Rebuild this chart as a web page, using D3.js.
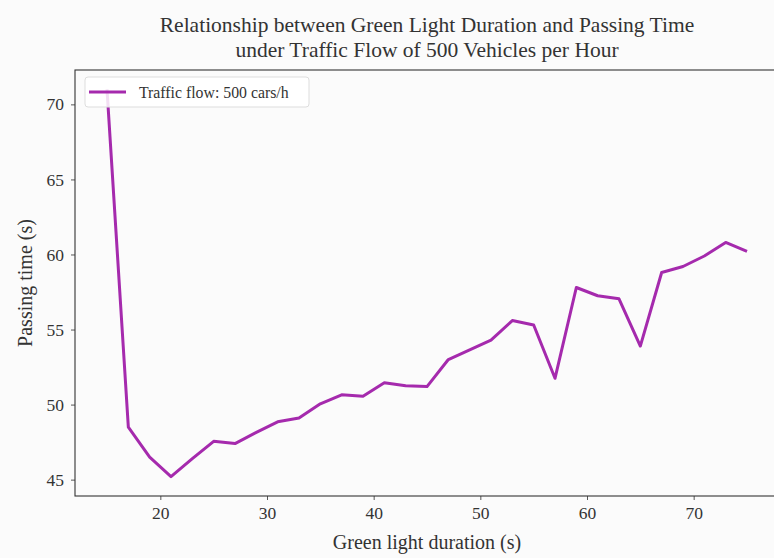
<!DOCTYPE html>
<html>
<head>
<meta charset="utf-8">
<script src="https://cdn.jsdelivr.net/npm/d3@7"></script>
<style>
  html, body { margin: 0; padding: 0; background: #fbfbfb; }
  #chart { width: 774px; height: 558px; overflow: hidden; }
  text { font-family: "Liberation Serif", "DejaVu Serif", serif; }
</style>
</head>
<body>
<div id="chart"></div>
<script>
// green light duration (s)
const durations = [15, 17, 19, 21, 23, 25, 27, 29, 31, 33, 35, 37, 39, 41, 43, 45,
  47, 49, 51, 53, 55, 57, 59, 61, 63, 65, 67, 69, 71, 73, 75];
// passing time (s), traffic flow 500 cars/h
const passingTimes = [71.0, 48.5, 46.5, 45.2, 46.4, 47.55, 47.4, 48.15, 48.85, 49.1, 50.05,
  50.65, 50.55, 51.45, 51.25, 51.2, 53.0, 53.65, 54.3, 55.6, 55.3, 51.75, 57.8,
  57.25, 57.05, 53.9, 58.8, 59.2, 59.9, 60.8, 60.2];
const xTicks = [20, 30, 40, 50, 60, 70];
const yTicks = [45, 50, 55, 60, 65, 70];
const titleLines = [
  'Relationship between Green Light Duration and Passing Time',
  'under Traffic Flow of 500 Vehicles per Hour'
];
const seriesLabel = 'Traffic flow: 500 cars/h';

(function () {
  const width = 774;
  const height = 558;
  const margin = { top: 70, right: -5, bottom: 62, left: 75 };
  const lineColor = '#a52aad';
  const textColor = '#333333';

  const svg = d3.select('#chart')
    .append('svg')
    .attr('width', width)
    .attr('height', height);

  const points = durations.map((d, i) => ({ x: d, y: passingTimes[i] }));

  // matplotlib-like 5% padding
  const xMin = d3.min(durations), xMax = d3.max(durations);
  const yMin = d3.min(passingTimes), yMax = d3.max(passingTimes);
  const xPad = (xMax - xMin) * 0.05, yPad = (yMax - yMin) * 0.05;

  const x = d3.scaleLinear()
    .domain([xMin - xPad, xMax + xPad])
    .range([margin.left, width - margin.right]);

  const y = d3.scaleLinear()
    .domain([yMin - yPad, yMax + yPad])
    .range([height - margin.bottom, margin.top]);

  // axes
  const xAxis = svg.append('g')
    .attr('transform', `translate(0,${height - margin.bottom})`)
    .call(d3.axisBottom(x).tickValues(xTicks).tickSize(4).tickPadding(7).tickSizeOuter(0));

  const yAxis = svg.append('g')
    .attr('transform', `translate(${margin.left},0)`)
    .call(d3.axisLeft(y).tickValues(yTicks).tickSize(4).tickPadding(7).tickSizeOuter(0));

  [xAxis, yAxis].forEach((g) => {
    g.select('.domain').remove();
    g.selectAll('.tick line').attr('stroke', '#444').attr('stroke-width', 0.9);
    g.selectAll('.tick text')
      .attr('fill', textColor)
      .attr('font-size', 17.5)
      .attr('font-family', '"Liberation Serif", serif');
  });

  // line
  svg.append('path')
    .datum(points)
    .attr('fill', 'none')
    .attr('stroke', lineColor)
    .attr('stroke-width', 3)
    .attr('stroke-linejoin', 'round')
    .attr('d', d3.line().x((d) => x(d.x)).y((d) => y(d.y)));

  // frame
  svg.append('rect')
    .attr('x', margin.left)
    .attr('y', margin.top)
    .attr('width', width - margin.right - margin.left)
    .attr('height', height - margin.bottom - margin.top)
    .attr('fill', 'none')
    .attr('stroke', '#333')
    .attr('stroke-width', 1.1);

  // title
  svg.append('text')
    .attr('x', (margin.left + width - margin.right) / 2)
    .attr('y', 32)
    .attr('text-anchor', 'middle')
    .attr('fill', textColor)
    .attr('font-size', 21.5)
    .selectAll('tspan')
    .data(titleLines)
    .enter()
    .append('tspan')
    .attr('x', (margin.left + width - margin.right) / 2)
    .attr('dy', (d, i) => (i === 0 ? 0 : 25))
    .text((d) => d);

  // axis labels
  svg.append('text')
    .attr('x', (margin.left + width - margin.right) / 2)
    .attr('y', 549)
    .attr('text-anchor', 'middle')
    .attr('fill', textColor)
    .attr('font-size', 20)
    .text('Green light duration (s)');

  svg.append('text')
    .attr('transform', `translate(32,${(margin.top + height - margin.bottom) / 2}) rotate(-90)`)
    .attr('text-anchor', 'middle')
    .attr('fill', textColor)
    .attr('font-size', 20)
    .text('Passing time (s)');

  // legend
  const legendG = svg.append('g').attr('transform', 'translate(85,77)');
  legendG.append('rect')
    .attr('width', 224)
    .attr('height', 30)
    .attr('rx', 3)
    .attr('fill', '#ffffff')
    .attr('fill-opacity', 0.85)
    .attr('stroke', '#dddddd')
    .attr('stroke-width', 1);
  legendG.append('line')
    .attr('x1', 4).attr('x2', 41)
    .attr('y1', 15).attr('y2', 15)
    .attr('stroke', lineColor)
    .attr('stroke-width', 3);
  legendG.append('text')
    .attr('x', 54)
    .attr('y', 20.5)
    .attr('fill', textColor)
    .attr('font-size', 15.8)
    .text(seriesLabel);
})();
</script>
</body>
</html>
